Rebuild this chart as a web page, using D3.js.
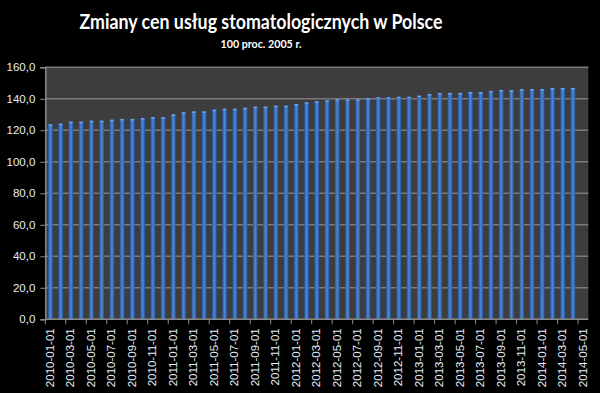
<!DOCTYPE html>
<html><head><meta charset="utf-8">
<script src="https://cdn.jsdelivr.net/npm/d3@7"></script>
<style>body{margin:0;background:#000;}svg{display:block;}</style>
</head><body>
<svg id="c" width="600" height="393"></svg>
<script>
const title = "Zmiany cen usług stomatologicznych w Polsce";
const subtitle = "100 proc. 2005 r.";
const categories = [];
for (let y = 2010; y <= 2014; y++) for (let m = 1; m <= 12; m++) {
  if (y === 2014 && m > 5) break;
  categories.push(y + "-" + String(m).padStart(2, "0") + "-01");
}
const values = [
  123.8,124.2,125.5,125.5,126.1,126.1,126.7,127.2,127.2,127.8,128.4,128.4,
  130.1,131.4,132.0,132.0,133.1,133.7,133.7,134.3,135.0,135.0,135.6,135.6,
  136.7,137.8,138.4,139.0,139.7,139.7,139.7,140.3,141.0,141.0,141.3,141.3,
  142.0,143.0,143.7,143.7,143.7,144.3,144.3,145.0,145.6,145.6,146.2,146.2,
  146.2,146.9,146.9,146.9,null
];
const yTicks = [0,20,40,60,80,100,120,140,160];

const svg = d3.select("#c");
const L = 45.3, R = 588.3, T = 67.3, B = 319.3;

const defs = svg.append("defs");
const g = defs.append("linearGradient").attr("id","bg").attr("x1","0").attr("x2","1").attr("y1","0").attr("y2","0");
g.append("stop").attr("offset","0%").attr("stop-color","#2557a0");
g.append("stop").attr("offset","50%").attr("stop-color","#4f87d6");
g.append("stop").attr("offset","100%").attr("stop-color","#2557a0");

svg.append("rect").attr("x",L).attr("y",T).attr("width",R-L).attr("height",B-T).attr("fill","#3d3d3d");

const x = d3.scaleBand().domain(categories).range([L, R]).paddingInner(0.55).paddingOuter(0.275);
const y = d3.scaleLinear().domain([0,160]).range([B, T]);

// gridlines
svg.append("g").selectAll("line").data(yTicks.filter(d=>d>0)).join("line")
  .attr("x1",L).attr("x2",R).attr("y1",d=>y(d)).attr("y2",d=>y(d))
  .attr("stroke","#7a7a7a").attr("stroke-width",1.6);

// bars
const data = categories.map((c,i)=>({c, v: values[i]})).filter(d=>d.v!=null);
svg.append("g").selectAll("rect").data(data).join("rect")
  .attr("x",d=>x(d.c)).attr("width",x.bandwidth())
  .attr("y",d=>y(d.v)).attr("height",d=>B-y(d.v))
  .attr("fill","url(#bg)");
svg.append("g").selectAll("rect").data(data).join("rect")
  .attr("x",d=>x(d.c)+0.5).attr("width",x.bandwidth()-1)
  .attr("y",d=>y(d.v)).attr("height",1.5)
  .attr("fill","#7aaaf0").attr("opacity",0.8);

// y axis
const ya = svg.append("g").attr("transform",`translate(${L},0)`)
  .call(d3.axisLeft(y).tickValues(yTicks).tickSize(5).tickPadding(5)
    .tickFormat(d=>d3.format(".1f")(d).replace(".",",")));
ya.select(".domain").attr("stroke","#8a8a8a").attr("stroke-width",1.5);
ya.selectAll(".tick line").attr("stroke","#8a8a8a");
ya.selectAll("text").attr("fill","#e6eef8").attr("font-family","Liberation Sans, Arial, sans-serif").attr("font-size","11.5px");

// x axis
const step = x.step();
const xa = svg.append("g").attr("transform",`translate(0,${B})`);
xa.append("line").attr("x1",L).attr("x2",R).attr("stroke","#8a8a8a").attr("stroke-width",1.5);
const tickIdx = d3.range(0, categories.length+1, 2);
xa.selectAll("line.t").data(tickIdx).join("line").attr("class","t")
  .attr("x1",i=>L+i*step).attr("x2",i=>L+i*step).attr("y1",0).attr("y2",5)
  .attr("stroke","#8a8a8a").attr("stroke-width",1);
xa.selectAll("text").data(categories.filter((c,i)=>i%2===0)).join("text")
  .attr("transform",d=>`translate(${x(d)+x.bandwidth()/2+3.5},9) rotate(-90)`)
  .attr("text-anchor","end")
  .attr("fill","#e6eef8").attr("font-family","Liberation Sans, Arial, sans-serif").attr("font-size","11.5px")
  .text(d=>d);

// titles
svg.append("text").attr("x",261).attr("y",29).attr("text-anchor","middle")
  .attr("fill","#fff").attr("font-family","Lato, sans-serif").attr("font-weight","bold")
  .attr("font-size","20px").attr("textLength",363).attr("lengthAdjust","spacingAndGlyphs").text(title);
svg.append("text").attr("x",261).attr("y",48).attr("text-anchor","middle")
  .attr("fill","#fff").attr("font-family","Lato, sans-serif").attr("font-weight","bold")
  .attr("font-size","11.5px").attr("textLength",81).attr("lengthAdjust","spacingAndGlyphs").text(subtitle);
</script>
</body></html>
